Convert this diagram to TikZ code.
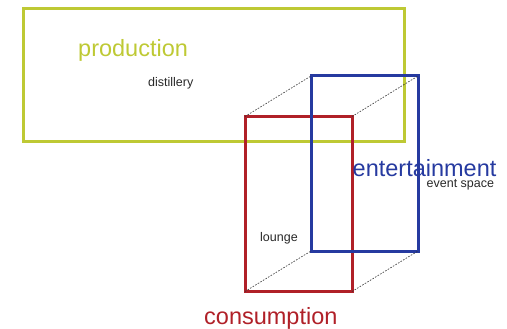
\documentclass[tikz,border=0pt]{standalone}
\usepackage{fontspec}
\setmainfont{Liberation Sans}
\definecolor{prodgreen}{RGB}{190,201,52}
\definecolor{consred}{RGB}{176,32,40}
\definecolor{entblue}{RGB}{38,58,160}
\definecolor{smallgray}{RGB}{40,40,40}
\begin{document}
\begin{tikzpicture}[x=1pt,y=-1pt,
  box/.style={draw,line width=3pt,outer sep=0pt,inner sep=0pt,fill=none},
  bigtext/.style={anchor=base west,inner sep=0pt,font=\fontsize{23.5}{26}\selectfont},
  smalltext/.style={anchor=base west,inner sep=0pt,text=smallgray,font=\fontsize{12.5}{14}\selectfont},
  link/.style={draw=black!80,line width=0.6pt,dash pattern=on 1.6pt off 1.4pt}]
\useasboundingbox (0,0) rectangle (507,329);
\node[box,draw=prodgreen,minimum width=380.5pt,minimum height=132.5pt] (prod) at (213.75,75.25) {};
\node[box,draw=consred,minimum width=107pt,minimum height=175pt] (cons) at (298.5,204) {};
\node[box,draw=entblue,minimum width=107pt,minimum height=175pt] (ent) at (364.5,163.5) {};
\draw[link] (cons.north west) -- (ent.north west);
\draw[link] (cons.north east) -- (ent.north east);
\draw[link] (cons.south west) -- (ent.south west);
\draw[link] (cons.south east) -- (ent.south east);
\node[bigtext,text=prodgreen] (prodlabel) at (78,57) {production};
\node[smalltext] (distillery) at (148,87) {distillery};
\node[bigtext,text=entblue] (entlabel) at (352.5,176.5) {entertainment};
\node[smalltext] (eventspace) at (426.5,187) {event space};
\node[smalltext] (lounge) at (260,241) {lounge};
\node[bigtext,text=consred] (conslabel) at (204,324) {consumption};
\end{tikzpicture}
\end{document}
